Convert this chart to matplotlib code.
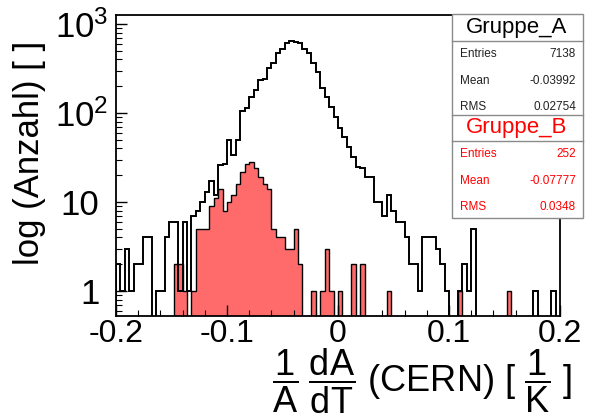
import numpy as np
import matplotlib
matplotlib.use('Agg')
import matplotlib.pyplot as plt
from matplotlib.patches import Rectangle
from matplotlib.lines import Line2D
from matplotlib.ticker import MultipleLocator, LogLocator, NullFormatter
from matplotlib.transforms import ScaledTranslation

# bin contents, 100 bins from -0.2 to 0.2
gruppe_a = [2, 1, 3, 1, 2, 2, 4, 4, 0, 1,
            1, 4, 6, 6, 1, 6, 1, 7, 8, 10,
            13, 17, 12, 26, 27, 50, 34, 50, 105, 115,
            150, 180, 235, 240, 320, 360, 470, 530, 610, 640,
            630, 610, 530, 470, 360, 290, 190, 150, 117, 90,
            68, 54, 42, 32, 25, 24, 19, 19, 10, 10,
            7, 12, 8, 6, 6, 4, 2, 2, 1, 4,
            4, 4, 3, 2, 1, 0, 0, 1, 2, 1,
            5, 0, 0, 0, 0, 0, 0, 0, 0, 0,
            0, 0, 0, 0, 1, 0, 0, 0, 1, 0]
gruppe_b = [0, 0, 0, 0, 0, 0, 0, 0, 0, 0,
            0, 0, 0, 2, 2, 1, 0, 1, 5, 5,
            5, 9, 11, 14, 8, 10, 12, 16, 22, 27,
            28, 24, 19, 16, 14, 5, 4, 4, 3, 3,
            5, 2, 0, 0, 1, 0, 1, 3, 1, 0,
            1, 0, 0, 2, 0, 2, 0, 0, 0, 0,
            0, 1, 0, 0, 0, 0, 0, 0, 0, 0,
            0, 0, 0, 0, 0, 0, 0, 1, 0, 0,
            0, 0, 0, 0, 0, 0, 0, 0, 1, 0,
            0, 0, 0, 0, 0, 0, 0, 0, 0, 0]
stats_a = [("Entries", "7138"), ("Mean", "-0.03992"), ("RMS", "0.02754")]
stats_b = [("Entries", "252"), ("Mean", "-0.07777"), ("RMS", "0.0348")]
xticks = [-0.2, -0.1, 0, 0.1, 0.2]
xlabels = ["-0.2", "-0.1", "0", "0.1", "0.2"]
yticks = [1, 10, 100, 1000]
ylabels = ["1", "10", "$10^{2}$", "$10^{3}$"]

plt.rcParams['font.family'] = ['Liberation Sans', 'DejaVu Sans']
plt.rcParams['mathtext.fontset'] = 'custom'
plt.rcParams['mathtext.rm'] = 'Liberation Sans'
plt.rcParams['mathtext.it'] = 'Liberation Sans'
plt.rcParams['mathtext.default'] = 'regular'
plt.rcParams['axes.unicode_minus'] = False

W, H = 590, 417
fig = plt.figure(figsize=(W / 100, H / 100), dpi=100)


def fx(px):
    return px / W


def fy(py):
    return 1 - py / H


ax = fig.add_axes([fx(116), fy(316), 444 / W, 301 / H])
ax.set_yscale('log')
edges = np.linspace(-0.2, 0.2, len(gruppe_a) + 1)

ax.stairs(gruppe_b, edges, baseline=0.01, fill=True, facecolor='#ff6b6b', edgecolor='none')
ax.stairs(gruppe_b, edges, baseline=0.01, color='black', lw=1.0)
ax.stairs(gruppe_a, edges, baseline=0.01, color='black', lw=1.4)

ax.set_xlim(-0.2, 0.2)
ax.set_ylim(0.524, 1262)
ax.set_xticks(xticks, xlabels)
ax.set_yticks(yticks, ylabels)
ax.xaxis.set_minor_locator(MultipleLocator(0.02))
ax.yaxis.set_minor_locator(LogLocator(base=10, subs=np.arange(2, 10)))
ax.yaxis.set_minor_formatter(NullFormatter())
ax.tick_params(which='both', direction='in', top=False, right=False)
ax.tick_params(which='major', length=8, width=1)
ax.tick_params(axis='x', which='major', pad=2, labelsize=23)
ax.tick_params(axis='y', which='major', pad=12, labelsize=25)
ax.tick_params(which='minor', length=4, width=0.8)
for s in ax.spines.values():
    s.set_linewidth(1.3)
# ROOT style: the "10" of 10^n sits where the plain labels sit
for lab in ax.get_yticklabels():
    if '^' in lab.get_text():
        lab.set_transform(lab.get_transform() + ScaledTranslation(0.09, 0, fig.dpi_scale_trans))

fig.text(fx(30), fy(153), "log (Anzahl) [ ]", rotation=90, fontsize=25,
         ha='center', va='center')
fig.text(fx(572), fy(381), r"$\dfrac{1}{A}\;\dfrac{dA}{dT}$ (CERN) [ $\dfrac{1}{K}$ ]",
         fontsize=26, ha='right', va='center')

# stats box
box_l, box_r = 452, 583
gray = '#8a8a8a'
fig.add_artist(Rectangle((fx(box_l), fy(218)), (box_r - box_l) / W, (218 - 14) / H,
                         transform=fig.transFigure, facecolor='white', edgecolor=gray,
                         lw=1.0, zorder=5))
for yy in [41, 115, 141]:
    fig.add_artist(Line2D([fx(box_l), fx(box_r)], [fy(yy), fy(yy)],
                          transform=fig.transFigure, color=gray, lw=1.0, zorder=6))

fig.text(fx(517), fy(28), "Gruppe_A", fontsize=16, ha='center', va='center', zorder=7)
fig.text(fx(517), fy(128), "Gruppe_B", fontsize=16, ha='center', va='center',
         color='red', zorder=7)
for i, (k, v) in enumerate(stats_a):
    y = 54 + 26.5 * i
    fig.text(fx(460), fy(y), k, fontsize=8.5, ha='left', va='center', color='#222222', zorder=7)
    fig.text(fx(576), fy(y), v, fontsize=8.5, ha='right', va='center', color='#222222', zorder=7)
for i, (k, v) in enumerate(stats_b):
    y = 154 + 26.5 * i
    fig.text(fx(460), fy(y), k, fontsize=8.5, ha='left', va='center', color='red', zorder=7)
    fig.text(fx(576), fy(y), v, fontsize=8.5, ha='right', va='center', color='red', zorder=7)

fig.savefig('out.png', dpi=100)
